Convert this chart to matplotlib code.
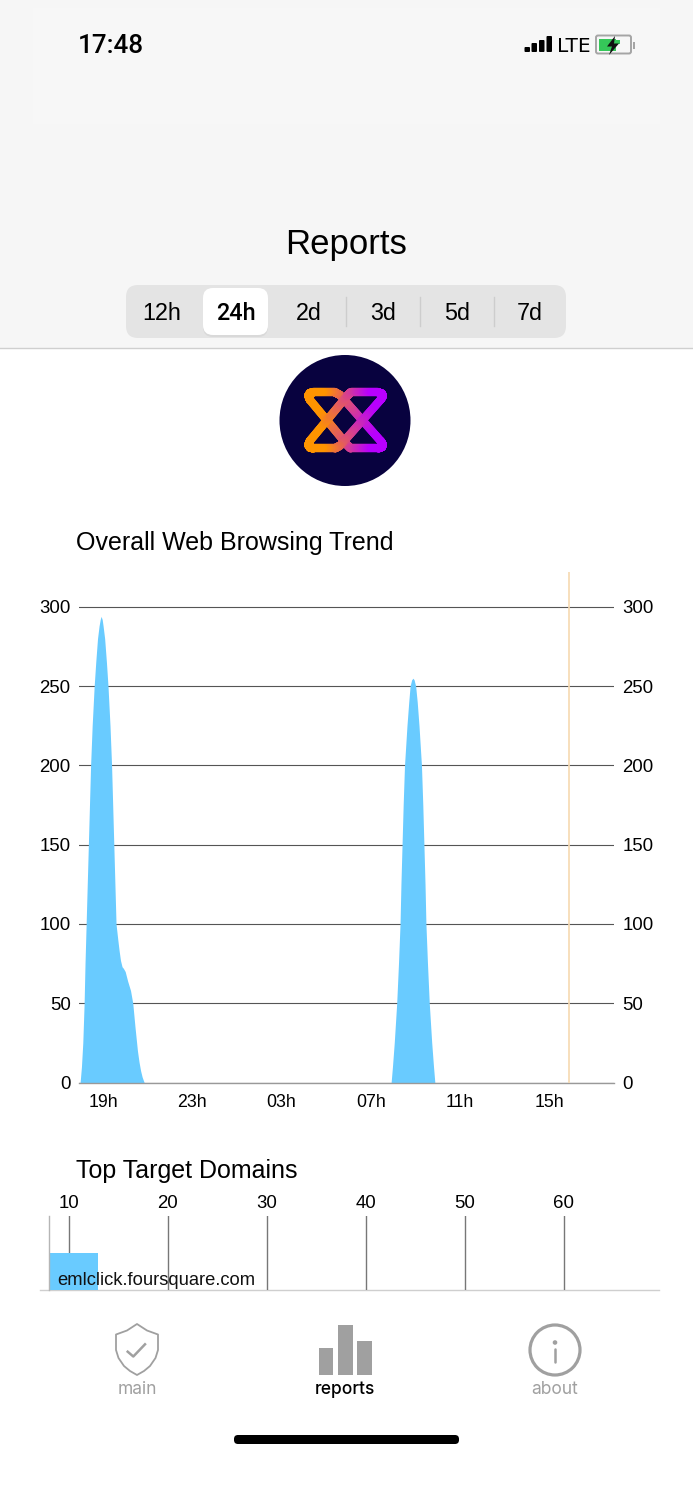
import numpy as np
import matplotlib
matplotlib.use('Agg')
import matplotlib.pyplot as plt
from matplotlib.patches import Rectangle, FancyBboxPatch, Circle, Polygon
from matplotlib.collections import LineCollection

W, H = 693, 1500
plt.rcParams['font.family'] = ['Liberation Sans', 'DejaVu Sans']

# trend chart, x is hours after 19h
hours = [-1.03, -0.97, -0.91, -0.85, -0.81, -0.76, -0.71, -0.66, -0.61, -0.56, -0.49, -0.40, -0.33, -0.25,
         -0.18, -0.13, -0.09, -0.04, 0.00, 0.07, 0.15, 0.22, 0.31, 0.38, 0.43, 0.48, 0.53, 0.58, 0.66, 0.72,
         0.78, 0.85, 0.91, 0.99, 1.10, 1.23, 1.33, 1.43, 1.54, 1.61, 1.68, 1.75, 1.84,
         12.91, 12.97, 13.05, 13.16, 13.24, 13.31, 13.35, 13.40, 13.45, 13.51, 13.62, 13.70, 13.76, 13.83, 13.89,
         13.94, 14.01, 14.08, 14.16, 14.27, 14.33, 14.38, 14.43, 14.47, 14.54, 14.62, 14.73, 14.81, 14.87, 20.9]
requests = [0, 10, 25, 50, 75, 100, 125, 150, 175, 200, 225, 250, 265, 280,
            288, 292, 294, 292, 288, 280, 265, 250, 225, 200, 175, 150, 125, 100, 90, 83,
            77, 73, 72, 70, 64, 58, 50, 35, 20, 13, 7.5, 3.5, 0,
            0, 10, 25, 50, 75, 100, 125, 150, 175, 200, 225, 240, 250, 254, 255,
            254, 250, 240, 225, 200, 175, 150, 125, 100, 75, 50, 25, 10, 0, 0]
y_ticks = [0, 50, 100, 150, 200, 250, 300]
x_ticks = [0, 4, 8, 12, 16, 20]
x_labels = ['19h', '23h', '03h', '07h', '11h', '15h']
now_hour = 20.9

# domains chart
domains = ['emlclick.foursquare.com']
domain_counts = [13]
domain_ticks = [10, 20, 30, 40, 50, 60]

# segmented control
periods = ['12h', '24h', '2d', '3d', '5d', '7d']
period_x = [162, 236, 309, 383, 457, 530]

BLUE = '#69cbff'
GREY = '#a0a0a0'


def axes_px(left, top, right, bottom):
    return fig.add_axes([left / W, 1 - bottom / H, (right - left) / W, (bottom - top) / H])


fig = plt.figure(figsize=(W / 100, H / 100), dpi=100, facecolor='white')

# page chrome drawn in pixel coordinates
ui = fig.add_axes([0, 0, 1, 1])
ui.set_xlim(0, W)
ui.set_ylim(H, 0)
ui.axis('off')

ui.add_patch(Rectangle((0, 0), W, 348, fc='#f6f6f6', ec='none'))
ui.add_patch(Rectangle((33, 8), 627, 116, fc='#f7f7f7', ec='none'))
ui.plot([0, W], [348, 348], color='#cfcfcf', lw=1)

ui.text(78, 46, '17:48', fontsize=18.7, family='Roboto', weight='medium', va='center', ha='left', color='black')
for x0, top in zip([524.5, 531.5, 539, 546.5], [47, 43, 40, 36]):
    ui.add_patch(FancyBboxPatch((x0 + 1, top + 1), 3.5, 50 - top, boxstyle='round,pad=1', fc='black', ec='none'))
ui.text(574, 46, 'LTE', fontsize=14.5, family='Liberation Sans Narrow', va='center', ha='center', color='black')
ui.add_patch(FancyBboxPatch((598, 37.5), 31, 14, boxstyle='round,pad=2', fc='none', ec='#a5a5a5', lw=1.4))
ui.add_patch(Rectangle((599, 38.5), 17, 12, fc='#35c759', ec='none'))
ui.add_patch(Rectangle((616, 40), 4, 4, fc='#35c759', ec='none'))
ui.add_patch(Polygon([[615, 36], [607, 46.5], [612, 46.5], [609, 55], [619, 43.5], [614, 43.5]], fc='#111111', ec='none'))
ui.add_patch(Rectangle((633, 41.5), 1.5, 7, fc='#a5a5a5', ec='none'))

ui.text(346, 244.5, 'Reports', fontsize=25, va='center', ha='center', color='black')

ui.add_patch(FancyBboxPatch((138, 297), 416, 29, boxstyle='round,pad=12', fc='#e4e4e4', ec='none'))
ui.add_patch(FancyBboxPatch((213, 300), 45, 27, boxstyle='round,pad=10', fc='#d9d9d9', ec='none'))
ui.add_patch(FancyBboxPatch((213, 298), 45, 27, boxstyle='round,pad=10', fc='white', ec='none'))
for x0 in [346, 420, 494]:
    ui.plot([x0, x0], [297, 326], color='#cdcdcd', lw=1)
for label, x0 in zip(periods, period_x):
    ui.text(x0, 313, label, fontsize=16.8, va='center', ha='center', color='black',
            family='Roboto' if label == '24h' else 'Liberation Sans',
            weight='medium' if label == '24h' else 'normal')

# logo, two closed ribbons, corners
ui.add_patch(Circle((345, 420.5), 65.5, fc='#08023f', ec='none'))
ribbon = np.array([[160, 142], [150, 144], [145, 152], [150, 165], [262, 300], [272, 310], [355, 310], [366, 306],
                   [368, 298], [362, 288], [240, 150], [225, 142], [160, 142]], dtype=float)
for flip in [False, True]:
    zoomed = ribbon.copy()
    if flip:
        zoomed[:, 1] = 452 - zoomed[:, 1]
    logo = zoomed / 3 + np.array([260, 345])
    pts = np.vstack([np.linspace(a, b, 40) for a, b in zip(logo[:-1], logo[1:])])
    segs = np.stack([pts[:-1], pts[1:]], axis=1)
    t = np.clip((segs[:, 0, 0] - 322) / 50, 0, 1)[:, None]
    cols = (1 - t) * np.array([1.0, 0.58, 0.0]) + t * np.array([0.72, 0.0, 1.0])
    ui.add_collection(LineCollection(segs, colors=cols, linewidths=6, capstyle='round'))

ui.text(76, 543, 'Overall Web Browsing Trend', fontsize=18, va='center', ha='left', color='black')
ui.text(76, 1171, 'Top Target Domains', fontsize=18, va='center', ha='left', color='black')
ui.plot([40, 659], [1290, 1290], color='#cfcfcf', lw=1)

# tab bar
ui.add_patch(Polygon([[137, 1324], [147, 1330.5], [158, 1334.5], [158, 1350], [155.5, 1358], [150, 1366], [144, 1371],
                      [137, 1375], [130, 1371], [124, 1366], [118.5, 1358], [116, 1350], [116, 1334.5], [127, 1330.5]],
                     fc='none', ec=GREY, lw=1.3, joinstyle='round'))
ui.plot([127.7, 133.3, 145], [1351.7, 1356.5, 1344.3], color=GREY, lw=1.8)
for x0, x1, top in [(319.3, 333.3, 1347.7), (338, 352.7, 1325.3), (357, 371.7, 1341)]:
    ui.add_patch(Rectangle((x0, top), x1 - x0, 1375 - top, fc=GREY, ec='none'))
ui.add_patch(Circle((555, 1350), 25, fc='none', ec=GREY, lw=2.3))
ui.add_patch(Circle((555, 1342.5), 2.3, fc=GREY, ec='none'))
ui.plot([555, 555], [1349, 1362], color=GREY, lw=1.8, solid_capstyle='round')
ui.text(137, 1389, 'main', fontsize=12.5, family='Inter', va='center', ha='center', color=GREY)
ui.text(345, 1389, 'reports', fontsize=12.5, family='Inter', weight='medium', va='center', ha='center', color='black')
ui.text(555, 1389, 'about', fontsize=12.5, family='Inter', va='center', ha='center', color=GREY)
ui.add_patch(FancyBboxPatch((238, 1439), 217, 1, boxstyle='round,pad=4', fc='black', ec='none'))

# trend chart
ax = axes_px(79, 572, 614, 1082.5)
ax.patch.set_alpha(0)
ax.set_xlim(-1.08, 22.9)
ax.set_ylim(0, 322)
ax.fill_between(hours, requests, color=BLUE, lw=0, zorder=2)
ax.axvline(now_hour, color='#f6d9b0', lw=1.2, zorder=3)
ax.set_yticks(y_ticks)
ax.set_xticks(x_ticks)
ax.set_xticklabels(x_labels)
ax.grid(axis='y', color='#555555', lw=0.8, zorder=1)
ax.set_axisbelow(True)
for side in ['top', 'left', 'right']:
    ax.spines[side].set_visible(False)
ax.spines['bottom'].set_color('#999999')
ax.spines['bottom'].set_linewidth(1)
ax.tick_params(axis='x', length=0, pad=8, labelsize=12.8)
ax.tick_params(axis='y', length=0, pad=6, labelsize=13.4, labelright=True)

# domains chart
bx = axes_px(49, 1216, 659, 1290)
bx.patch.set_alpha(0)
bx.set_xlim(8.03, 69.6)
bx.set_ylim(-0.5, 1.5)
bx.barh([0], domain_counts, height=1, color=BLUE, zorder=2)
bx.set_xticks(domain_ticks)
bx.set_yticks([])
bx.xaxis.tick_top()
bx.grid(axis='x', color='#777777', lw=1, zorder=1)
bx.set_axisbelow(True)
for side in ['top', 'right', 'bottom']:
    bx.spines[side].set_visible(False)
bx.spines['left'].set_color('#b5b5b5')
bx.spines['left'].set_linewidth(1)
bx.tick_params(axis='x', length=0, pad=3, labelsize=13.4)
bx.text(8.9, -0.23, domains[0], fontsize=13.2, va='center', ha='left', color='#111111', zorder=3)

fig.savefig('out.png', dpi=100)
